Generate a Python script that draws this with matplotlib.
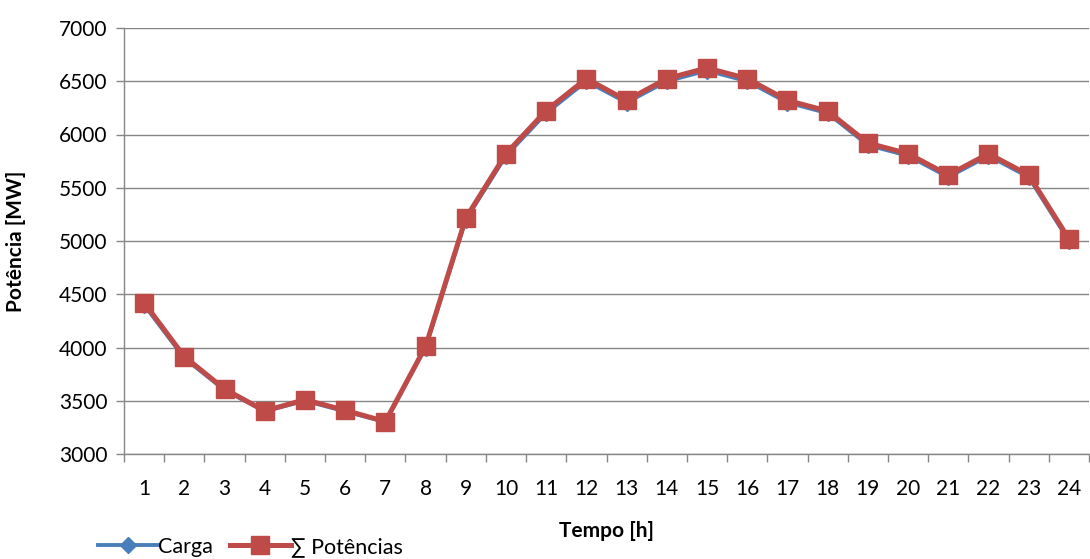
import matplotlib.pyplot as plt
import numpy as np

plt.rcParams['font.family'] = ['Lato', 'DejaVu Sans']

horas = list(range(1, 25))
carga = [4400, 3900, 3600, 3400, 3500, 3400, 3300, 4000, 5200, 5800, 6200, 6500,
         6300, 6500, 6600, 6500, 6300, 6200, 5900, 5800, 5600, 5800, 5600, 5000]
potencias = [4420, 3915, 3610, 3405, 3510, 3410, 3305, 4010, 5215, 5820, 6225, 6525,
             6320, 6525, 6625, 6525, 6320, 6220, 5920, 5820, 5620, 5820, 5620, 5020]

fig = plt.figure(figsize=(10.9, 5.59), dpi=100)
ax = fig.add_axes([124 / 1090, 1 - 454 / 559, 965 / 1090, 426 / 559])

ax.plot(horas, carga, color='#4A7EBB', lw=2.8, marker='D', markersize=8,
        label='Carga', zorder=3)
ax.plot(horas, potencias, color='#BE4B48', lw=3.6, marker='s', markersize=13,
        label='∑ Potências', zorder=4)

ax.set_xlim(0.5, 24.5)
ax.set_ylim(3000, 7000)
ax.set_yticks(np.arange(3000, 7001, 500))
ax.set_xticks(horas)
ax.set_xticks(np.arange(0.5, 24.6, 1), minor=True)
ax.tick_params(axis='x', which='major', length=0, pad=18, labelsize=15)
ax.tick_params(axis='x', which='minor', length=6, color='#868686', width=1)
ax.tick_params(axis='y', length=6, color='#868686', width=1, labelsize=15, pad=6)

ax.grid(axis='y', color='#868686', lw=1)
ax.set_axisbelow(True)
for s in ['top', 'right']:
    ax.spines[s].set_visible(False)
for s in ['left', 'bottom']:
    ax.spines[s].set_color('#868686')
    ax.spines[s].set_linewidth(1)

ax.set_ylabel('Potência [MW]', fontsize=15, fontweight='bold', labelpad=24)
ax.set_xlabel('Tempo [h]', fontsize=15, fontweight='bold', labelpad=16)

leg = ax.legend(loc='lower left', bbox_to_anchor=(-0.036, -0.262), ncol=2, frameon=False,
                fontsize=15.5, handlelength=2.8, handletextpad=0.0, columnspacing=0.8,
                borderaxespad=0)

fig.savefig('out.png', dpi=100)
